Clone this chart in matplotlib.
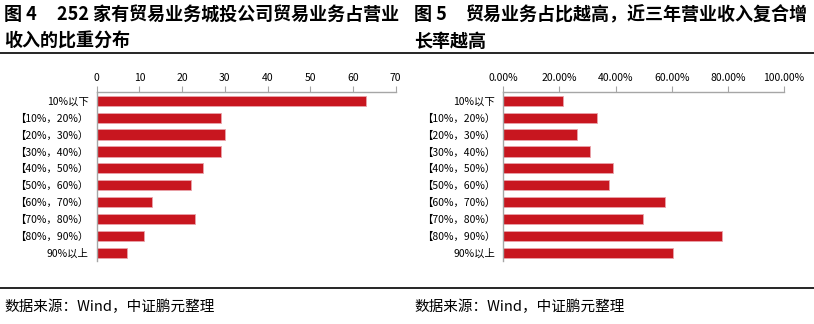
import matplotlib
matplotlib.use("Agg")
import matplotlib.pyplot as plt
from matplotlib.lines import Line2D
from matplotlib.ticker import FuncFormatter

plt.rcParams['font.family'] = ['Noto Sans CJK SC', 'DejaVu Sans']

# 数据
categories = ['10%以下', '【10%，20%）', '【20%，30%）', '【30%，40%）', '【40%，50%）',
              '【50%，60%）', '【60%，70%）', '【70%，80%）', '【80%，90%）', '90%以上']
left_counts = [63, 29, 30, 29, 25, 22, 13, 23, 11, 7]
right_growth = [21.4, 33.3, 26.4, 31.0, 39.0, 37.6, 57.5, 49.8, 78.1, 60.5]  # %
left_ticks = [0, 10, 20, 30, 40, 50, 60, 70]
right_ticks = [0, 20, 40, 60, 80, 100]

left_title = ('图 4', '252 家有贸易业务城投公司贸易业务占营业', '收入的比重分布')
right_title = ('图 5', '贸易业务占比越高，近三年营业收入复合增', '长率越高')
source = '数据来源：Wind，中证鹏元整理'

bar_color = '#C8161F'
axis_gray = '#A6A6A6'

fig = plt.figure(figsize=(8.14, 3.24), dpi=100)


def draw_panel(rect, values, ticks, fmt):
    ax = fig.add_axes(rect)
    y = range(len(categories))
    ax.barh(y, values, height=0.6, color=bar_color, edgecolor='#E9A3AA', linewidth=0.6)
    ax.set_ylim(len(categories) - 0.5, -0.5)
    ax.set_xlim(ticks[0], ticks[-1])
    ax.set_xticks(ticks)
    ax.xaxis.set_major_formatter(FuncFormatter(fmt))
    ax.xaxis.tick_top()
    ax.tick_params(axis='x', direction='out', length=4, width=0.8, color=axis_gray,
                   labelsize=7.5, pad=3)
    ax.set_yticks(list(y))
    ax.set_yticklabels(categories, fontsize=7.5)
    ax.tick_params(axis='y', length=0, pad=6)
    for s in ['right', 'bottom']:
        ax.spines[s].set_visible(False)
    for s in ['top', 'left']:
        ax.spines[s].set_color(axis_gray)
        ax.spines[s].set_linewidth(1.0)
    return ax


draw_panel([0.1188, 0.1935, 0.3672, 0.5216], left_counts, left_ticks,
           lambda v, p: '%d' % v)
draw_panel([0.6183, 0.1935, 0.3448, 0.5216], right_growth, right_ticks,
           lambda v, p: '%.2f%%' % v)

# 标题
for x0, x1, (num, line1, line2) in [(4, 57, left_title), (414, 466, right_title)]:
    fig.text(x0 / 814, 1 - 15 / 324, num, fontsize=13, fontweight='bold',
             ha='left', va='center')
    fig.text(x1 / 814, 1 - 15 / 324, line1, fontsize=13, fontweight='bold',
             ha='left', va='center')
    fig.text(x0 / 814, 1 - 41 / 324, line2, fontsize=13, fontweight='bold',
             ha='left', va='center')
    fig.text(x0 / 814, 1 - 307 / 324, source, fontsize=10.5, ha='left', va='center')

# 横线
for yy in [53, 288]:
    fig.add_artist(Line2D([0, 1], [1 - yy / 324, 1 - yy / 324], color='black', linewidth=1.2))

fig.savefig('out.png', dpi=100)
